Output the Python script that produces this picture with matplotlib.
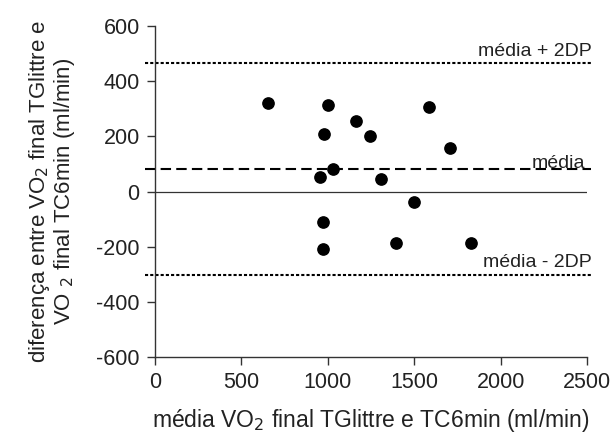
import matplotlib
matplotlib.use("Agg")
import matplotlib.pyplot as plt

plt.rcParams['font.family'] = ['Liberation Sans', 'DejaVu Sans']
plt.rcParams['axes.unicode_minus'] = False

# media VO2 (x) e diferenca (y), ml/min
media_vo2 = [656, 1003, 1164, 977, 1245, 1585, 1708, 1031, 954, 1305,
             1496, 974, 1395, 1826, 973]
diferenca = [322, 314, 256, 208, 201, 306, 159, 82, 54, 47,
             -38, -110, -186, -186, -207]

media_dif = 82
lim_sup = 465
lim_inf = -301

x_ticks = [0, 500, 1000, 1500, 2000, 2500]
y_ticks = [-600, -400, -200, 0, 200, 400, 600]

txt = '#222222'

fig = plt.figure(figsize=(6.16, 4.41), dpi=100)
ax = fig.add_axes([0.2516, 0.1905, 0.7014, 0.7505])

ax.scatter(media_vo2, diferenca, s=66, color='black', zorder=3)

ax.plot([-60, 2520], [lim_sup, lim_sup], color='black', lw=1.5,
        linestyle=(0, (1.5, 1)), clip_on=False)
ax.plot([-60, 2520], [media_dif, media_dif], color='black', lw=1.5,
        linestyle=(0, (5, 2.5)), clip_on=False)
ax.plot([-60, 2520], [lim_inf, lim_inf], color='black', lw=1.5,
        linestyle=(0, (1.5, 1)), clip_on=False)
ax.plot([0, 2500], [0, 0], color='#333333', lw=0.9)

ax.text(2525, lim_sup + 12, 'média + 2DP', ha='right', va='bottom', fontsize=14, color=txt)
ax.text(2490, media_dif - 10, 'média', ha='right', va='bottom', fontsize=14, color=txt)
ax.text(2530, lim_inf + 12, 'média - 2DP', ha='right', va='bottom', fontsize=14, color=txt)

ax.set_xlim(0, 2500)
ax.set_ylim(-600, 600)
ax.set_xticks(x_ticks)
ax.set_yticks(y_ticks)
ax.tick_params(labelsize=15.5, length=6, width=1, direction='out',
               color='#333333', labelcolor=txt, pad=5)

for s in ['top', 'right']:
    ax.spines[s].set_visible(False)
for s in ['left', 'bottom']:
    ax.spines[s].set_linewidth(1)
    ax.spines[s].set_color('#333333')

ax.set_xlabel('média VO$_2$ final TGlittre e TC6min (ml/min)', fontsize=16.5,
              labelpad=10, color=txt)
ax.set_ylabel('diferença entre VO$_2$ final TGlittre e\nVO $_2$ final TC6min (ml/min)',
              fontsize=16, labelpad=14, linespacing=1.0, color=txt)

fig.savefig('out.png', dpi=100)
